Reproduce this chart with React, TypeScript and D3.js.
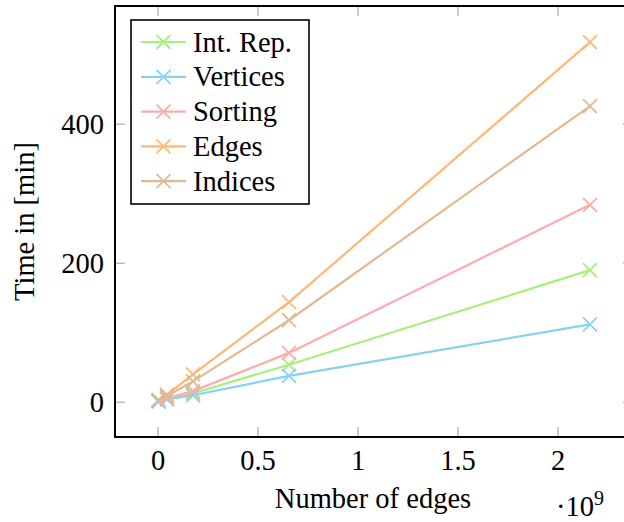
import React from "react";
import * as d3 from "d3";

const edgesCount = [0.003, 0.045, 0.175, 0.655, 2.16];
const seriesNames = ["Int. Rep.", "Vertices", "Sorting", "Edges", "Indices"];
const intRep = [2, 5, 13, 54, 190];
const vertices = [1, 4, 10, 38, 112];
const sorting = [2, 6, 16, 71, 284];
const edges = [3, 11, 40, 144, 518];
const indices = [3, 9, 30, 118, 426];
const seriesColors = ["#a6f07c", "#86d2f2", "#ffaaaa", "#ffb874", "#dfb994"];
const xTicks = [0, 0.5, 1, 1.5, 2];
const xTickLabels = ["0", "0.5", "1", "1.5", "2"];
const yTicks = [0, 200, 400];

const allSeries = [intRep, vertices, sorting, edges, indices];

const W = 624;
const H = 522;
const L = 115, R = 633, T = 6, B = 437;
const FONT = '"Liberation Serif", "Times New Roman", serif';
const txt = { fontFamily: FONT };
const FS = 28.5;

function Cross({ cx, cy, color, s = 7 }: { cx: number; cy: number; color: string; s?: number }) {
  return (
    <g stroke={color} strokeWidth={1.8}>
      <line x1={cx - s} y1={cy - s} x2={cx + s} y2={cy + s} />
      <line x1={cx - s} y1={cy + s} x2={cx + s} y2={cy - s} />
    </g>
  );
}

export default function App() {
  const x = d3.scaleLinear().domain([-0.215, 2.375]).range([L, R]);
  const y = d3.scaleLinear().domain([-50, 570]).range([B, T]);
  const line = d3
    .line<[number, number]>()
    .x((d) => x(d[0]))
    .y((d) => y(d[1]));

  const legendX = 131, legendY = 20, legendW = 178, legendH = 184;
  const rowY = (i: number) => 42 + i * 34.8;

  return (
    <svg width={W} height={H} style={{ position: "absolute", left: 0, top: 0, fontFamily: FONT }}>
      <rect x={0} y={0} width={W} height={H} fill="white" />
      {xTicks.map((t) => (
        <g key={"xt" + t} stroke="#aaa" strokeWidth={1.2}>
          <line x1={x(t)} x2={x(t)} y1={B} y2={B - 10} />
          <line x1={x(t)} x2={x(t)} y1={T} y2={T + 10} />
        </g>
      ))}
      {yTicks.map((t) => (
        <g key={"yt" + t} stroke="#aaa" strokeWidth={1.2}>
          <line x1={L} x2={L + 10} y1={y(t)} y2={y(t)} />
          <line x1={R} x2={R - 10} y1={y(t)} y2={y(t)} />
        </g>
      ))}
      {allSeries.map((vals, i) => {
        const pts: [number, number][] = vals.map((v, j) => [edgesCount[j], v]);
        return (
          <g key={"s" + i}>
            <path d={line(pts) || ""} fill="none" stroke={seriesColors[i]} strokeWidth={2.2} />
            {pts.map((p, j) => (
              <Cross key={j} cx={x(p[0])} cy={y(p[1])} color={seriesColors[i]} />
            ))}
          </g>
        );
      })}
      <rect x={L} y={T} width={R - L} height={B - T} fill="none" stroke="black" strokeWidth={2} />
      {xTicks.map((t, i) => (
        <text key={"xl" + t} style={txt} x={x(t)} y={470} fontSize={FS} textAnchor="middle" fill="black">
          {xTickLabels[i]}
        </text>
      ))}
      {yTicks.map((t) => (
        <text key={"yl" + t} style={txt} x={104} y={y(t) + 9.5} fontSize={FS} textAnchor="end" fill="black">
          {t}
        </text>
      ))}
      <text style={txt} x={373} y={508} fontSize={FS} textAnchor="middle" fill="black">
        Number of edges
      </text>
      <text style={txt} x={556} y={516} fontSize={FS} fill="black">
        ·10<tspan fontSize={20} dy={-11}>9</tspan>
      </text>
      <text style={txt} transform={`translate(34, ${(T + B) / 2}) rotate(-90)`} fontSize={FS} textAnchor="middle" fill="black">
        Time in [min]
      </text>
      <rect x={legendX} y={legendY} width={legendW} height={legendH} fill="white" stroke="black" strokeWidth={1.6} />
      {seriesNames.map((name, i) => (
        <g key={"lg" + i}>
          <line x1={141} x2={186} y1={rowY(i)} y2={rowY(i)} stroke={seriesColors[i]} strokeWidth={2.2} />
          <Cross cx={163.5} cy={rowY(i)} color={seriesColors[i]} />
          <text style={txt} x={193} y={rowY(i) + 9.5} fontSize={FS} fill="black">
            {name}
          </text>
        </g>
      ))}
    </svg>
  );
}
